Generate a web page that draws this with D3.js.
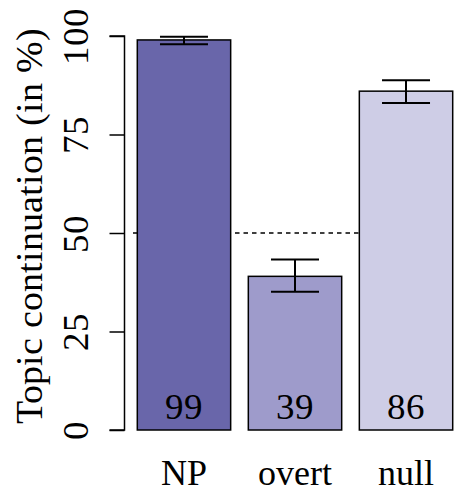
<!DOCTYPE html>
<html>
<head>
<meta charset="utf-8">
<script src="https://cdn.jsdelivr.net/npm/d3@7"></script>
<style>
@font-face { font-family: 'ChartSerif'; src: local('Liberation Serif'), local('LiberationSerif'), local('Liberation Serif Regular'), local('Tinos'); }
</style>
</head>
<body style="margin:0">
<svg id="chart" width="456" height="492"></svg>
<script>
const categories = ["NP", "overt", "null"];
const values = [99, 39, 86];
const errLow = [97.9, 35.1, 83.0];
const errHigh = [99.8, 43.3, 88.8];
const barLabels = ["99", "39", "86"];
const colors = ["#6966aa", "#9e9bcb", "#cecde6"];
const yTicks = [0, 25, 50, 75, 100];
const refLine = 50;
const yTitle = "Topic continuation (in %)";

const svg = d3.select("#chart");
const fs = 36;
const FONT = "ChartSerif, 'Liberation Serif', serif";

const x = d3.scaleBand().domain(categories).range([137.3, 452.7]).paddingInner(0.159).paddingOuter(0);
const y = d3.scaleLinear().domain([0, 100]).range([430, 36]);
const cx = d => x(d) + x.bandwidth() / 2;

svg.append("line")
  .attr("x1", 133).attr("x2", 456)
  .attr("y1", y(refLine)).attr("y2", y(refLine))
  .attr("stroke", "#000").attr("stroke-width", 1.3)
  .attr("stroke-dasharray", "4.5,4");

svg.selectAll("rect.bar").data(categories).enter().append("rect")
  .attr("class", "bar")
  .attr("x", d => x(d))
  .attr("width", x.bandwidth())
  .attr("y", (d, i) => y(values[i]))
  .attr("height", (d, i) => y(0) - y(values[i]))
  .attr("fill", (d, i) => colors[i])
  .attr("stroke", "#000").attr("stroke-width", 1.5);

const capHalf = 24;
const eg = svg.selectAll("g.err").data(categories).enter().append("g").attr("class", "err");
eg.append("line")
  .attr("x1", cx).attr("x2", cx)
  .attr("y1", (d, i) => y(errLow[i])).attr("y2", (d, i) => y(errHigh[i]))
  .attr("stroke", "#000").attr("stroke-width", 2);
eg.append("line")
  .attr("x1", d => cx(d) - capHalf).attr("x2", d => cx(d) + capHalf)
  .attr("y1", (d, i) => y(errLow[i])).attr("y2", (d, i) => y(errLow[i]))
  .attr("stroke", "#000").attr("stroke-width", 2);
eg.append("line")
  .attr("x1", d => cx(d) - capHalf).attr("x2", d => cx(d) + capHalf)
  .attr("y1", (d, i) => y(errHigh[i])).attr("y2", (d, i) => y(errHigh[i]))
  .attr("stroke", "#000").attr("stroke-width", 2);

const axisX = 124.5;
const yAxis = d3.axisLeft(y).tickValues(yTicks).tickSize(15).tickPadding(0).tickFormat(d3.format("d"));
const ag = svg.append("g").attr("transform", `translate(${axisX},0)`).call(yAxis);
ag.attr("font-family", null).attr("font-size", null);
ag.select(".domain").attr("d", `M-15,${y(100)}H0V${y(0)}H-15`).attr("stroke", "#000").attr("stroke-width", 1.5);
ag.selectAll(".tick line").attr("stroke", "#000").attr("stroke-width", 1.5);
ag.selectAll(".tick text")
  .attr("x", null).attr("dy", null)
  .attr("transform", "translate(-36.5,0) rotate(-90)")
  .attr("text-anchor", "middle")
  .attr("font-size", 36.5)
  .attr("fill", "#000");

svg.append("text")
  .attr("transform", `translate(42,${(29 + 422) / 2}) rotate(-90)`)
  .attr("text-anchor", "middle")
  .attr("font-size", 37.5)
  .text(yTitle);

svg.selectAll("text.val").data(categories).enter().append("text")
  .attr("class", "val")
  .attr("x", cx)
  .attr("y", 419)
  .attr("text-anchor", "middle")
  .attr("font-size", 36.5)
  .text((d, i) => barLabels[i]);

svg.selectAll("text.cat").data(categories).enter().append("text")
  .attr("class", "cat")
  .attr("x", cx)
  .attr("y", 485)
  .attr("text-anchor", "middle")
  .attr("font-size", 36)
  .text(d => d);

svg.selectAll("text").each(function () {
  this.style.setProperty("font-family", FONT, "important");
  this.setAttribute("font-family", "Liberation Serif");
});
</script>
</body>
</html>
